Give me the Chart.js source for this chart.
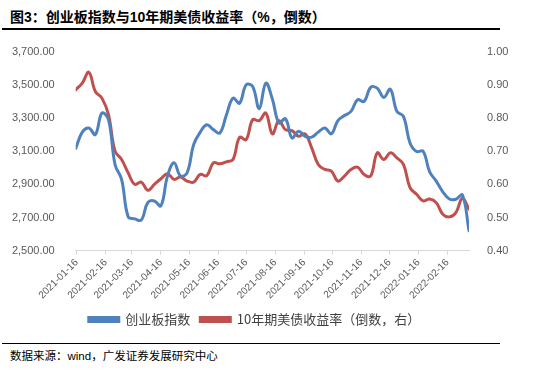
<!DOCTYPE html>
<html><head><meta charset="utf-8">
<script src="https://cdn.jsdelivr.net/npm/chart.js@4.4.1/dist/chart.umd.min.js"></script>
<style>
html,body{margin:0;padding:0;background:#fff;width:544px;height:380px;overflow:hidden;}
#title{position:absolute;left:10px;top:6px;font:bold 14px "Liberation Sans","Noto Sans CJK SC",sans-serif;color:#000;white-space:nowrap;}
#l1{position:absolute;left:2px;top:28px;width:498px;height:1.5px;background:#000;}
#l2{position:absolute;left:2px;top:342.5px;width:498px;height:1.5px;background:#000;}
#src{position:absolute;left:10px;top:347px;font:11.5px "Liberation Sans","Noto Sans CJK SC",sans-serif;color:#000;white-space:nowrap;}
#wrap{position:absolute;left:0;top:0;width:544px;height:340px;}
</style></head>
<body>
<div id="title">图3：创业板指数与10年期美债收益率（%，倒数）</div>
<div id="l1"></div>
<div id="wrap"><canvas id="c" width="544" height="340"></canvas></div>
<div id="l2"></div>
<div id="src">数据来源：wind，广发证券发展研究中心</div>
<script>
// Weekly dates (Fridays)
const startDate = '2021-01-15';
const endDate = '2022-03-11';
const tickDates = ['2021-01-16','2021-02-16','2021-03-16','2021-04-16','2021-05-16','2021-06-16','2021-07-16','2021-08-16','2021-09-16','2021-10-16','2021-11-16','2021-12-16','2022-01-16','2022-02-16'];
const seriesNames = ['创业板指数','10年期美债收益率（倒数，右）'];
const chinextIndex = [3116,3215,3240,3200,3330,3290,3020,2930,2705,2692,2685,2790,2800,2770,2950,3030,2950,2970,3140,3215,3260,3230,3210,3320,3420,3390,3500,3490,3356,3510,3415,3270,3296,3180,3220,3190,3185,3215,3240,3205,3285,3315,3340,3410,3400,3485,3480,3424,3474,3340,3310,3150,3098,3100,2975,2920,2855,2812,2810,2836,2620];
const ustInverse = [0.885,0.905,0.938,0.88,0.86,0.81,0.70,0.675,0.635,0.60,0.607,0.582,0.60,0.617,0.632,0.615,0.622,0.61,0.607,0.63,0.626,0.665,0.662,0.668,0.675,0.742,0.735,0.795,0.792,0.815,0.752,0.792,0.765,0.762,0.745,0.752,0.71,0.66,0.645,0.64,0.61,0.625,0.645,0.652,0.63,0.625,0.695,0.675,0.695,0.68,0.66,0.59,0.57,0.55,0.556,0.545,0.51,0.502,0.515,0.558,0.525];

const DAY = 86400000;
const t0 = Date.parse(startDate);
const dayOf = s => Math.round((Date.parse(s) - t0) / DAY);
const weekDates = [];
for (let d = 0; d <= dayOf(endDate); d += 7) weekDates.push(d);

const blue = '#4F81BD', red = '#C0504D';
const ptsA = chinextIndex.map((v, i) => ({x: weekDates[i], y: v}));
const ptsB = ustInverse.map((v, i) => ({x: weekDates[i], y: v}));

new Chart(document.getElementById('c'), {
  type: 'line',
  data: {datasets: [
    {label: seriesNames[0], data: ptsA, yAxisID: 'y', borderColor: blue, backgroundColor: blue, borderWidth: 3, pointRadius: 0, tension: 0.4, borderCapStyle: 'round'},
    {label: seriesNames[1], data: ptsB, yAxisID: 'y1', borderColor: red, backgroundColor: red, borderWidth: 3, pointRadius: 0, tension: 0.4, borderCapStyle: 'round'}
  ]},
  options: {
    responsive: false, animation: false, devicePixelRatio: 1,
    layout: {padding: {left: 0, right: 35, top: 51.7, bottom: 4}},
    plugins: {
      tooltip: {enabled: false},
      legend: {position: 'bottom', labels: {boxWidth: 30, boxHeight: 4, padding: 10, color: '#404040', font: {family: '"Noto Sans CJK SC"', size: 13}}}
    },
    scales: {
      x: {
        type: 'linear', min: 0, max: dayOf(endDate),
        afterBuildTicks: s => { s.ticks = tickDates.map(d => ({value: dayOf(d), label: d})); },
        afterFit: s => { s.height = 52.3; },
        ticks: {autoSkip: false, minRotation: 45, maxRotation: 45, color: '#595959', font: {family: '"Liberation Sans"', size: 10}, padding: 2, callback: (v, i) => tickDates[i]},
        grid: {drawOnChartArea: false, drawTicks: true, tickLength: 4, color: '#d9d9d9'},
        border: {display: true, color: '#d9d9d9', width: 1}
      },
      y: {
        position: 'left', min: 2500, max: 3700,
        afterFit: s => { s.width = 75.7; },
        ticks: {stepSize: 200, padding: 13, color: '#595959', font: {family: '"Liberation Sans"', size: 11}, callback: v => v.toLocaleString('en-US', {minimumFractionDigits: 2, maximumFractionDigits: 2})},
        grid: {display: false}, border: {display: false}
      },
      y1: {
        position: 'right', min: 0.4, max: 1.0,
        afterFit: s => { s.width = 40; },
        ticks: {stepSize: 0.1, padding: 10, color: '#595959', font: {family: '"Liberation Sans"', size: 11}, callback: v => v.toFixed(2)},
        grid: {display: false}, border: {display: false}
      }
    }
  }
});
</script>
</body></html>
